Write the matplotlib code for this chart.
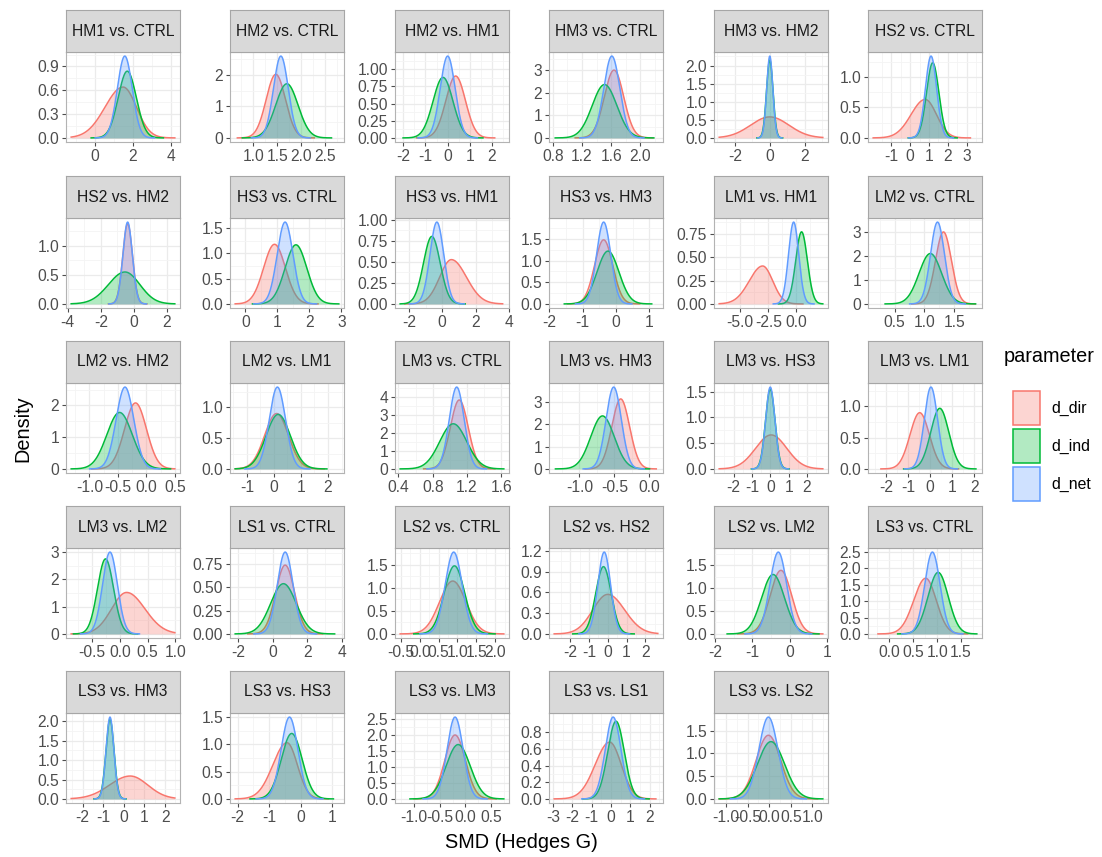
import numpy as np
import matplotlib
matplotlib.use("Agg")
import matplotlib.pyplot as plt
from matplotlib.patches import Rectangle
from matplotlib import font_manager as fm

# ---------------- data ----------------
panels = ["HM1 vs. CTRL", "HM2 vs. CTRL", "HM2 vs. HM1", "HM3 vs. CTRL", "HM3 vs. HM2", "HS2 vs. CTRL",
          "HS2 vs. HM2", "HS3 vs. CTRL", "HS3 vs. HM1", "HS3 vs. HM3", "LM1 vs. HM1", "LM2 vs. CTRL",
          "LM2 vs. HM2", "LM2 vs. LM1", "LM3 vs. CTRL", "LM3 vs. HM3", "LM3 vs. HS3", "LM3 vs. LM1",
          "LM3 vs. LM2", "LS1 vs. CTRL", "LS2 vs. CTRL", "LS2 vs. HS2", "LS2 vs. LM2", "LS3 vs. CTRL",
          "LS3 vs. HM3", "LS3 vs. HS3", "LS3 vs. LM3", "LS3 vs. LS1", "LS3 vs. LS2"]

x_ticks = [["0", "2", "4"], ["1.0", "1.5", "2.0", "2.5"], ["-2", "-1", "0", "1", "2"],
           ["0.8", "1.2", "1.6", "2.0"], ["-2", "0", "2"], ["-1", "0", "1", "2", "3"],
           ["-4", "-2", "0", "2"], ["0", "1", "2", "3"], ["-2", "0", "2", "4"],
           ["-2", "-1", "0", "1"], ["-5.0", "-2.5", "0.0"], ["0.5", "1.0", "1.5"],
           ["-1.0", "-0.5", "0.0", "0.5"], ["-1", "0", "1", "2"], ["0.4", "0.8", "1.2", "1.6"],
           ["-1.0", "-0.5", "0.0"], ["-2", "-1", "0", "1", "2"], ["-2", "-1", "0", "1", "2"],
           ["-0.5", "0.0", "0.5", "1.0"], ["-2", "0", "2", "4"], ["-0.5", "0.0", "0.5", "1.0", "1.5", "2.0"],
           ["-2", "-1", "0", "1", "2"], ["-2", "-1", "0", "1"], ["0.0", "0.5", "1.0", "1.5"],
           ["-2", "-1", "0", "1", "2"], ["-2", "-1", "0", "1"], ["-1.0", "-0.5", "0.0", "0.5"],
           ["-3", "-2", "-1", "0", "1", "2"], ["-1.0", "-0.5", "0.0", "0.5", "1.0"]]

y_ticks = [["0.0", "0.3", "0.6", "0.9"], ["0", "1", "2"], ["0.00", "0.25", "0.50", "0.75", "1.00"],
           ["0", "1", "2", "3"], ["0.0", "0.5", "1.0", "1.5", "2.0"], ["0.0", "0.5", "1.0"],
           ["0.0", "0.5", "1.0"], ["0.0", "0.5", "1.0", "1.5"], ["0.00", "0.25", "0.50", "0.75", "1.00"],
           ["0.0", "0.5", "1.0", "1.5"], ["0.00", "0.25", "0.50", "0.75"], ["0", "1", "2", "3"],
           ["0", "1", "2"], ["0.0", "0.5", "1.0"], ["0", "1", "2", "3", "4"],
           ["0", "1", "2", "3"], ["0.0", "0.5", "1.0", "1.5"], ["0.0", "0.5", "1.0"],
           ["0", "1", "2", "3"], ["0.00", "0.25", "0.50", "0.75"], ["0.0", "0.5", "1.0", "1.5"],
           ["0.0", "0.3", "0.6", "0.9", "1.2"], ["0.0", "0.5", "1.0", "1.5"], ["0.0", "0.5", "1.0", "1.5", "2.0", "2.5"],
           ["0.0", "0.5", "1.0", "1.5", "2.0"], ["0.0", "0.5", "1.0", "1.5"], ["0.0", "0.5", "1.0", "1.5", "2.0", "2.5"],
           ["0.0", "0.2", "0.4", "0.6", "0.8"], ["0.0", "0.5", "1.0", "1.5"]]

# data range (min/max of samples) per panel
x_lo = [-1.23, 0.625, -2.14, 0.82, -2.90, -1.96, -3.79, -0.32, -2.52, -1.85, -6.89, 0.14, -1.32, -1.43, 0.42,
        -1.36, -2.78, -2.58, -0.88, -2.17, -0.52, -2.86, -1.89, -0.34, -2.55, -2.08, -1.27, -2.95, -1.16]
x_hi = [4.22, 2.78, 2.53, 2.24, 3.04, 3.54, 2.47, 2.92, 3.62, 1.25, 2.38, 1.88, 0.50, 2.40, 1.63,
        0.12, 2.86, 2.12, 0.99, 3.82, 2.23, 2.67, 0.88, 1.83, 2.47, 1.22, 0.75, 2.43, 1.24]

# density curves: mode, peak height, left spread, right spread
dir_mode = [1.50, 1.47, 0.36, 1.64, 0.00, 0.80, -0.38, 0.91, 0.55, -0.37, -3.00, 1.32, -0.19, 0.10, 1.11,
            -0.41, 0.05, -0.47, 0.12, 0.72, 0.875, 0.00, -0.24, 0.76, 0.31, -0.43, -0.20, -0.07, -0.02]
dir_peak = [0.64, 2.02, 0.90, 3.00, 0.58, 0.63, 1.38, 1.18, 0.525, 1.48, 0.405, 3.00, 2.08, 0.90, 3.85,
            3.13, 0.66, 0.90, 1.52, 0.74, 1.15, 0.57, 1.39, 1.70, 0.59, 1.03, 2.00, 0.68, 1.40]
dir_sdl = [0.95, 0.20, 0.44, 0.133, 1.10, 0.75, 0.29, 0.34, 0.70, 0.27, 1.20, 0.133, 0.192, 0.44, 0.104,
           0.127, 0.85, 0.44, 0.27, 0.54, 0.35, 0.80, 0.287, 0.25, 1.00, 0.45, 0.20, 0.75, 0.285]
dir_sdr = [0.70, 0.20, 0.44, 0.133, 1.10, 0.60, 0.29, 0.34, 0.90, 0.27, 0.90, 0.133, 0.192, 0.44, 0.104,
           0.127, 0.85, 0.44, 0.33, 0.54, 0.35, 0.90, 0.287, 0.22, 0.85, 0.33, 0.20, 0.60, 0.285]

ind_mode = [1.72, 1.70, -0.21, 1.51, 0.00, 1.20, -0.54, 1.58, -0.62, -0.24, 0.48, 1.10, -0.47, 0.16, 1.04,
            -0.67, 0.00, 0.44, -0.26, 0.62, 0.92, -0.23, -0.45, 1.02, -0.67, -0.28, -0.14, 0.26, 0.04]
ind_peak = [0.84, 1.72, 0.88, 2.36, 2.15, 1.23, 0.55, 1.17, 0.80, 1.22, 0.77, 2.10, 1.78, 0.886, 2.52,
            2.37, 1.55, 0.97, 2.75, 0.54, 1.48, 0.97, 1.30, 1.88, 2.05, 1.20, 1.70, 0.93, 1.26]
ind_sdl = [0.475, 0.232, 0.45, 0.169, 0.185, 0.325, 1.00, 0.34, 0.50, 0.327, 0.518, 0.19, 0.224, 0.45, 0.158,
           0.168, 0.257, 0.41, 0.145, 0.74, 0.27, 0.41, 0.307, 0.212, 0.195, 0.332, 0.235, 0.43, 0.316]
ind_sdr = [0.475, 0.232, 0.45, 0.169, 0.185, 0.325, 0.90, 0.34, 0.50, 0.327, 0.518, 0.19, 0.224, 0.45, 0.158,
           0.168, 0.257, 0.41, 0.145, 0.74, 0.27, 0.41, 0.307, 0.212, 0.195, 0.332, 0.235, 0.43, 0.316]

net_mode = [1.59, 1.575, 0.00, 1.61, 0.00, 1.11, -0.38, 1.24, -0.32, -0.37, -0.23, 1.22, -0.375, 0.13, 1.08,
            -0.51, 0.00, 0.04, -0.18, 0.72, 0.90, -0.19, -0.31, 0.90, -0.67, -0.35, -0.20, 0.11, -0.02]
net_peak = [1.03, 2.60, 1.19, 3.62, 2.26, 1.34, 1.41, 1.62, 0.97, 1.89, 0.874, 3.41, 2.58, 1.33, 4.57,
            3.66, 1.59, 1.31, 3.00, 0.88, 1.78, 1.18, 1.79, 2.50, 2.11, 1.50, 2.56, 0.98, 1.80]
net_sdl = [0.39, 0.153, 0.335, 0.11, 0.176, 0.298, 0.283, 0.246, 0.41, 0.211, 0.456, 0.117, 0.155, 0.30, 0.087,
           0.109, 0.25, 0.30, 0.133, 0.453, 0.224, 0.338, 0.223, 0.16, 0.189, 0.266, 0.156, 0.407, 0.22]
net_sdr = net_sdl

params = ["d_dir", "d_ind", "d_net"]
colors = ["#F8766D", "#00BA38", "#619CFF"]

# ---------------- styling / layout ----------------
W, H = 1102, 857
avail = {f.name for f in fm.fontManager.ttflist}
NARROW = "Liberation Sans Narrow" in avail
FONT = "Liberation Sans Narrow" if NARROW else "Liberation Sans"
SC = 1.0 if NARROW else 0.82
plt.rcParams["font.family"] = [FONT, "DejaVu Sans"]

TICK_FS = 13.7 * SC
STRIP_FS = 13.7 * SC
TITLE_FS = 17.5 * SC
LEG_FS = 14.0 * SC

col_left = [66, 230, 395, 549, 714, 868]
row_top = [10, 176, 341, 506, 671]
PW, SH, PH = 114, 42, 90

fig = plt.figure(figsize=(W / 100, H / 100), dpi=100)

curves = [(dir_mode, dir_peak, dir_sdl, dir_sdr),
          (ind_mode, ind_peak, ind_sdl, ind_sdr),
          (net_mode, net_peak, net_sdl, net_sdr)]


def minor_of(t, lo, hi):
    t = np.asarray(t)
    step = t[1] - t[0]
    m = list((t[:-1] + t[1:]) / 2)
    m += [t[0] - step / 2, t[-1] + step / 2]
    return [v for v in m if lo <= v <= hi]


for i, title in enumerate(panels):
    r, c = divmod(i, 6)
    left = col_left[c]
    top = row_top[r]
    ax = fig.add_axes([left / W, 1 - (top + SH + PH) / H, PW / W, PH / H])
    sax = fig.add_axes([left / W, 1 - (top + SH) / H, PW / W, SH / H])
    sax.set_xticks([]); sax.set_yticks([])
    sax.set_facecolor("#D9D9D9")
    for s in sax.spines.values():
        s.set_color("#A6A6A6"); s.set_linewidth(0.8)
    sax.text(0.5, 0.5, title, transform=sax.transAxes, ha="center", va="center",
             fontsize=STRIP_FS, color="#1A1A1A")

    lo, hi = x_lo[i], x_hi[i]
    ymax = 0
    for k, (mo, pk, sl, sr) in enumerate(curves):
        m, h, a, b = mo[i], pk[i], sl[i], sr[i]
        x0 = max(lo, m - 4 * a)
        x1 = min(hi, m + 4 * b)
        x = np.linspace(x0, x1, 500)
        s = np.where(x < m, a, b)
        y = h * np.exp(-0.5 * ((x - m) / s) ** 2)
        ax.fill_between(x, 0, y, color=colors[k], alpha=0.3, lw=0, zorder=2 + k)
        ax.plot(x, y, color=colors[k], lw=1.1, zorder=2.5 + k)
        ymax = max(ymax, h)

    ax.set_xlim(lo - 0.05 * (hi - lo), hi + 0.05 * (hi - lo))
    ax.set_ylim(-0.05 * ymax, 1.05 * ymax)
    xt = [float(v) for v in x_ticks[i]]
    yt = [float(v) for v in y_ticks[i]]
    ax.set_xticks(xt)
    ax.set_xticklabels(x_ticks[i])
    ax.set_yticks(yt)
    ax.set_yticklabels(y_ticks[i])
    xl = ax.get_xlim(); yl = ax.get_ylim()
    ax.set_xticks(minor_of(xt, *xl), minor=True)
    ax.set_yticks(minor_of(yt, *yl), minor=True)
    ax.grid(True, which="major", color="#EBEBEB", lw=0.9, zorder=0)
    ax.grid(True, which="minor", color="#F4F4F4", lw=0.6, zorder=0)
    ax.set_axisbelow(True)
    ax.tick_params(which="major", length=3, width=0.8, color="#4D4D4D",
                   labelsize=TICK_FS, labelcolor="#4D4D4D", pad=2)
    ax.tick_params(which="minor", length=0)
    for s in ax.spines.values():
        s.set_color("#B3B3B3"); s.set_linewidth(0.8)

fig.text(23 / W, 1 - 429 / H, "Density", rotation=90, ha="center", va="center", fontsize=TITLE_FS)
fig.text(521 / W, 1 - 843 / H, "SMD (Hedges G)", ha="center", va="center", fontsize=TITLE_FS)

# legend
fig.text(1004 / W, 1 - 357 / H, "parameter", ha="left", va="center", fontsize=TITLE_FS)
key_top = [389, 427, 465]
for k, p in enumerate(params):
    kx, ky, kw, kh = 1013, key_top[k] + 2, 27, 34
    rect = Rectangle((kx / W, 1 - (ky + kh) / H), kw / W, kh / H, transform=fig.transFigure,
                     facecolor=matplotlib.colors.to_rgba(colors[k], 0.3),
                     edgecolor=colors[k], lw=1.1)
    fig.patches.append(rect)
    fig.text(1051 / W, 1 - (ky + kh / 2) / H, p, ha="left", va="center", fontsize=LEG_FS)

fig.savefig("out.png", dpi=100, facecolor="white")
